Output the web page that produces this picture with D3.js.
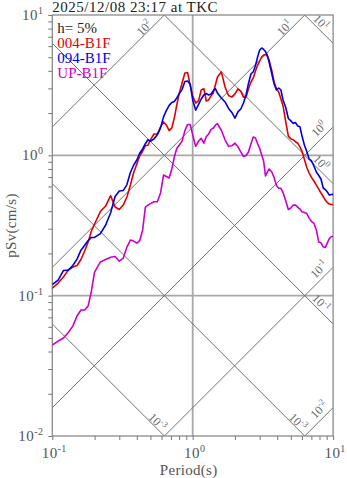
<!DOCTYPE html>
<meta charset="utf-8">
<style>
    body{margin:0;background:#fff;}
    svg text{font-family:"Liberation Serif","DejaVu Serif",serif;}
</style>
<div class="chart"></div>
<script src="https://d3js.org/d3.v7.min.js"></script>
<script>

var title = "2025/12/08 23:17 at TKC";
var damping = "h= 5%";
var names = ["004-B1F", "094-B1F", "UP-B1F"];
var colors = ["#e00000", "#0000dd", "#cc00cc"];

// period (s)
var periods = [0.10,0.11,0.12,0.13,0.14,0.15,0.16,0.17,0.18,0.19,
    0.20,0.22,0.24,0.26,0.28,0.30,0.32,0.34,0.36,0.38,
    0.40,0.42,0.44,0.46,0.48,0.50,0.53,0.56,0.59,0.62,
    0.65,0.68,0.71,0.74,0.77,0.80,0.84,0.88,0.92,0.96,
    1.00,1.05,1.10,1.15,1.20,1.25,1.30,1.35,1.40,1.45,
    1.50,1.60,1.70,1.80,1.90,2.00,2.10,2.20,2.30,2.40,
    2.50,2.60,2.70,2.80,2.90,3.00,3.10,3.20,3.30,3.40,
    3.50,3.65,3.80,3.95,4.10,4.25,4.40,4.60,4.80,5.00,
    5.20,5.40,5.60,5.80,6.00,6.25,6.50,6.75,7.00,7.30,
    7.60,7.90,8.20,8.50,8.80,9.10,9.40,9.70,10.0];

// pSv (cm/s)
var pSv004 = [0.113,0.123,0.136,0.152,0.160,0.164,0.181,0.208,0.241,0.289,
    0.324,0.398,0.435,0.517,0.428,0.411,0.442,0.505,0.614,0.754,
    0.867,0.997,1.07,1.17,1.18,1.29,1.42,1.42,1.59,1.73,
    1.64,1.50,1.57,1.85,2.28,2.74,3.28,3.86,3.89,3.15,
    2.65,2.36,2.44,2.92,2.99,2.44,2.48,2.65,2.78,3.17,
    3.61,3.93,3.07,2.67,2.60,2.74,2.97,2.87,2.60,2.60,
    2.99,3.33,3.56,3.99,4.40,4.70,5.04,5.19,5.23,5.10,
    4.78,4.06,3.33,2.97,2.83,2.52,2.25,1.73,1.37,1.31,
    1.29,1.25,1.22,1.15,1.07,0.933,0.819,0.748,0.700,0.656,
    0.614,0.575,0.539,0.509,0.480,0.461,0.450,0.446,0.446];

var pSv094 = [0.120,0.129,0.151,0.152,0.164,0.182,0.211,0.229,0.247,0.260,
    0.260,0.277,0.319,0.388,0.509,0.557,0.561,0.619,0.754,0.853,
    0.926,1.04,1.11,1.21,1.29,1.26,1.31,1.40,1.57,1.88,
    2.09,2.27,2.38,2.42,2.56,2.74,2.94,3.36,3.39,3.20,
    2.48,2.10,2.30,2.52,2.69,2.76,2.69,2.74,2.87,2.99,
    2.78,2.56,2.40,2.16,2.02,1.84,2.04,2.14,2.36,2.69,
    3.28,3.80,3.94,4.37,5.02,5.63,5.82,5.68,5.49,5.15,
    4.62,3.86,3.22,2.92,3.02,2.92,2.48,2.19,1.83,1.76,
    1.69,1.71,1.62,1.60,1.38,1.18,1.06,0.941,0.918,0.839,
    0.760,0.718,0.678,0.585,0.570,0.548,0.521,0.526,0.527];

var pSvUP = [0.0445,0.0475,0.0499,0.0546,0.0607,0.0716,0.0790,0.0790,0.0843,0.108,
    0.147,0.174,0.181,0.188,0.190,0.176,0.185,0.222,0.249,0.245,
    0.237,0.247,0.294,0.428,0.442,0.453,0.467,0.467,0.539,0.724,
    0.706,0.689,0.799,0.973,1.12,1.18,1.26,1.50,1.66,1.66,
    1.40,1.16,1.26,1.32,1.22,1.36,1.42,1.53,1.56,1.64,
    1.68,1.51,1.29,1.16,1.17,1.22,1.15,1.06,0.981,0.997,
    1.06,1.21,1.35,1.33,1.21,1.12,1.01,0.911,0.712,0.760,
    0.799,0.764,0.695,0.609,0.582,0.582,0.543,0.472,0.411,0.421,
    0.442,0.442,0.428,0.414,0.396,0.392,0.385,0.357,0.339,0.328,
    0.294,0.241,0.238,0.223,0.220,0.238,0.255,0.263,0.264];

var xDecades = [0.1, 1, 10], xExps = ["-1", "0", "1"];
var yDecades = [0.01, 0.1, 1, 10], yExps = ["-2", "-1", "0", "1"];

// tripartite guide lines
var accLevels = [0.01, 0.1, 1, 10, 100];        // pSa (cm/s2), rising lines
var accExps = ["-2", "-1", "0", "1", "2"];
var dispLevels = [0.001, 0.01, 0.1, 1, 10];     // Sd (cm), falling lines
var dispExps = ["-3", "-3", "-1", "0", "1"];


var svg = d3.select(".chart").append("svg").attr("width", 347).attr("height", 478),
    margin = {top: 15, right: 13.9, bottom: 42, left: 52.3},
    width = +svg.attr("width") - margin.left - margin.right,
    height = +svg.attr("height") - margin.top - margin.bottom,
    g = svg.append("g").attr("transform", "translate(" + margin.left + "," + margin.top + ")");

var x = d3.scaleLog().domain([0.1, 10]).range([0, width]);
var y = d3.scaleLog().domain([0.01, 10]).range([height, 0]);
var w2pi = 2 * Math.PI;

svg.append("defs").append("clipPath").attr("id", "plot")
    .append("rect").attr("width", width).attr("height", height);

function sup(sel, base, exp, size) {
    sel.append("tspan").text(base);
    sel.append("tspan").attr("font-size", size).attr("dy", -size * 0.6).text(exp);
}

// grid
g.selectAll(".vgrid").data([1]).enter().append("line")
    .attr("stroke", "#a8a8a8").attr("stroke-width", 1.8)
    .attr("x1", function(d) { return x(d); }).attr("x2", function(d) { return x(d); })
    .attr("y1", 0).attr("y2", height);
g.selectAll(".hgrid").data([0.1, 1]).enter().append("line")
    .attr("stroke", "#a8a8a8").attr("stroke-width", 1.8)
    .attr("x1", 0).attr("x2", width)
    .attr("y1", function(d) { return y(d); }).attr("y2", function(d) { return y(d); });

// diagonals
var diag = g.append("g").attr("clip-path", "url(#plot)");
accLevels.forEach(function(a) {
    diag.append("line").attr("stroke", "#707070").attr("stroke-width", 1)
        .attr("x1", x(0.1)).attr("y1", y(a * 0.1 / w2pi))
        .attr("x2", x(10)).attr("y2", y(a * 10 / w2pi));
});
dispLevels.forEach(function(d) {
    diag.append("line").attr("stroke", "#707070").attr("stroke-width", 1)
        .attr("x1", x(0.1)).attr("y1", y(w2pi * d / 0.1))
        .attr("x2", x(10)).attr("y2", y(w2pi * d / 10));
});

// diagonal labels near the end of each line
accLevels.forEach(function(a, i) {
    var t = Math.min(10, w2pi * 10 / a), dx, dy;
    if (t < 10) { dx = -20; dy = 13; } else { dx = -14; dy = 2; }
    var px = x(t) + dx, py = y(a * t / w2pi) + dy;
    var tx = g.append("text").attr("fill", "#6a6a6a").attr("font-size", 12)
        .attr("text-anchor", "middle")
        .attr("transform", "translate(" + px + "," + (py) + ") rotate(-45) translate(0,4)");
    sup(tx, "10", accExps[i], 8.5);
});
dispLevels.forEach(function(d, i) {
    var t = Math.min(10, w2pi * d / 0.01), dx, dy;
    if (t < 10) { dx = -7; dy = -14; } else { dx = -12; dy = -21; }
    var px = x(t) + dx, py = y(w2pi * d / t) + dy;
    var tx = g.append("text").attr("fill", "#6a6a6a").attr("font-size", 12)
        .attr("text-anchor", "middle")
        .attr("transform", "translate(" + px + "," + py + ") rotate(45) translate(0,4)");
    sup(tx, "10", dispExps[i], 8.5);
});

// frame
g.append("rect").attr("width", width).attr("height", height)
    .attr("fill", "none").attr("stroke", "#8a8a8a").attr("stroke-width", 1.3);

// ticks
g.append("g")
    .attr("transform", "translate(0," + height + ")")
    .call(d3.axisBottom(x).tickValues(x.ticks()).tickSize(4).tickFormat(""))
    .call(function(a) { a.select(".domain").remove(); a.selectAll("line").attr("stroke", "#777"); });
g.append("g")
    .call(d3.axisLeft(y).tickValues(y.ticks()).tickSize(4).tickFormat(""))
    .call(function(a) { a.select(".domain").remove(); a.selectAll("line").attr("stroke", "#777"); });

xDecades.forEach(function(d, i) {
    var tx = g.append("text").attr("fill", "#555").attr("font-size", 15)
        .attr("letter-spacing", 0.4)
        .attr("text-anchor", "middle").attr("x", x(d) + 2).attr("y", height + 22);
    sup(tx, "10", xExps[i], 10);
});
yDecades.forEach(function(d, i) {
    var tx = g.append("text").attr("fill", "#555").attr("font-size", 15)
        .attr("letter-spacing", 0.4)
        .attr("text-anchor", "end").attr("x", -9).attr("y", y(d) + 5);
    sup(tx, "10", yExps[i], 10);
});

g.append("text").attr("fill", "#555").attr("font-size", 15)
    .attr("letter-spacing", 0.3)
    .attr("text-anchor", "middle").attr("x", x(1) - 4).attr("y", height + 39)
    .text("Period(s)");
g.append("text").attr("fill", "#555").attr("font-size", 15)
    .attr("letter-spacing", 0.3)
    .attr("text-anchor", "middle")
    .attr("transform", "translate(" + (-36) + "," + (height / 2) + ") rotate(-90)")
    .text("pSv(cm/s)");

g.append("text").attr("fill", "#222").attr("font-size", 15)
    .attr("letter-spacing", 0.5)
    .attr("x", 0).attr("y", -3).text(title);

// spectra
var series = [pSv004, pSv094, pSvUP];
var line = d3.line()
    .x(function(d, i) { return x(periods[i]); })
    .y(function(d) { return y(d); });

var curves = g.append("g").attr("clip-path", "url(#plot)");
series.forEach(function(s, k) {
    curves.append("path")
        .datum(s)
        .attr("fill", "none")
        .attr("stroke", colors[k])
        .attr("stroke-linejoin", "round")
        .attr("stroke-width", 1.6)
        .attr("d", line);
});

// legend
g.append("text").attr("fill", "#222").attr("font-size", 15)
    .attr("x", 5).attr("y", 18).text(damping);
names.forEach(function(n, k) {
    g.append("text").attr("fill", colors[k]).attr("font-size", 15)
        .attr("x", 5).attr("y", 33 + k * 15).text(n);
});

</script>
